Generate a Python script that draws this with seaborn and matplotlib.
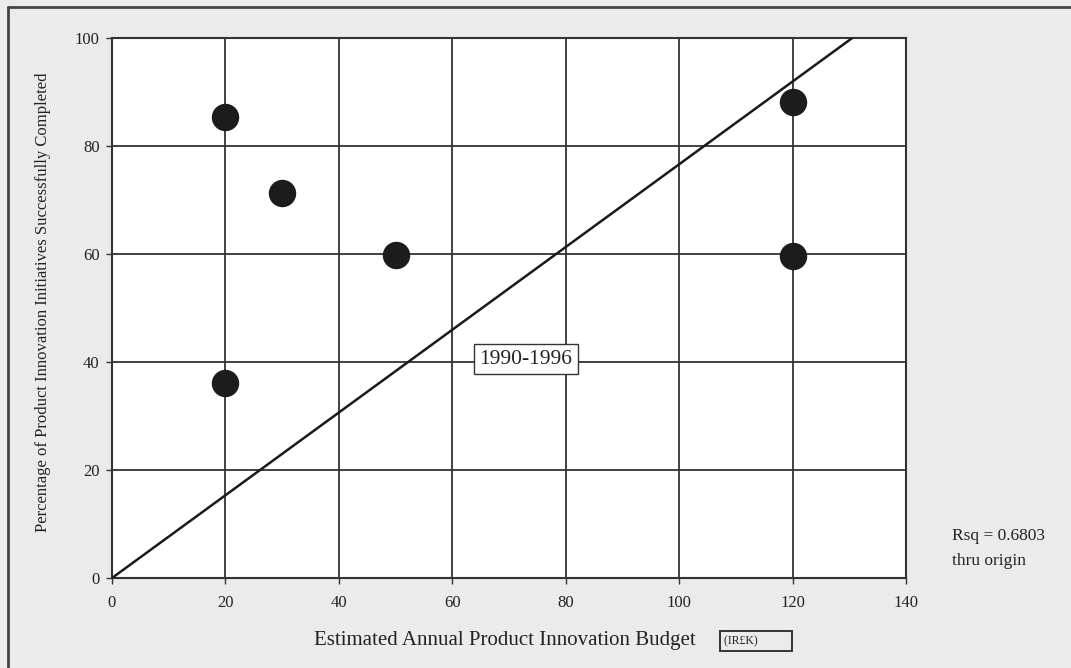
import numpy as np
import pandas as pd
import matplotlib
matplotlib.use("Agg")
import matplotlib.pyplot as plt
import seaborn as sns

# Data
budget = [20, 30, 50, 20, 120, 120]
success_pct = [85.4, 71.3, 59.8, 36.1, 88.1, 59.6]
x_ticks = [0, 20, 40, 60, 80, 100, 120, 140]
y_ticks = [0, 20, 40, 60, 80, 100]

df = pd.DataFrame({"budget": budget, "pct": success_pct})

# Regression through origin
b = np.array(budget, float)
p = np.array(success_pct, float)
slope = (b * p).sum() / (b * b).sum()
fit_x = [0, 140]
fit_df = pd.DataFrame({"x": fit_x, "y": [slope * v for v in fit_x]})

sns.set_theme(style="white")
plt.rcParams["font.family"] = ["Liberation Serif", "DejaVu Serif"]

fig = plt.figure(figsize=(10.71, 6.68), dpi=100, facecolor="#ebebeb")
ax = fig.add_axes([112/1071, 90/668, 794/1071, 540/668])
ax.set_facecolor("white")

ax.set_xlim(0, 140)
ax.set_ylim(0, 100)
ax.set_xticks(x_ticks)
ax.set_yticks(y_ticks)
ax.grid(True, color="#333333", linewidth=1.3)
ax.set_axisbelow(True)

sns.lineplot(data=fit_df, x="x", y="y", ax=ax, color="#1a1a1a", linewidth=1.8, zorder=3)
sns.scatterplot(data=df, x="budget", y="pct", ax=ax, s=390, color="#1c1c1c",
                edgecolor="#1c1c1c", linewidth=0, zorder=4)

for sp in ax.spines.values():
    sp.set_color("#333333")
    sp.set_linewidth(1.5)

ax.tick_params(axis="both", which="both", direction="out", length=4, width=1,
               color="#333333", labelsize=12, labelcolor="#222222", pad=5,
               left=True, bottom=True)
ax.tick_params(axis="x", pad=8)

ax.set_xlabel("")
ax.set_ylabel("")
fig.text(43/1071, 1 - 302/668, "Percentage of Product Innovation Initiatives Successfully Completed",
         rotation=90, ha="center", va="center", fontsize=12, color="#222222")
fig.text(505/1071, 1 - 640/668, "Estimated Annual Product Innovation Budget",
         ha="center", va="center", fontsize=15, color="#222222")
fig.text(724/1071, 1 - 641/668, "(IR£K)          ", ha="left", va="center", fontsize=8.5,
         color="#222222",
         bbox=dict(boxstyle="square,pad=0.35", facecolor="none", edgecolor="#333333", linewidth=1.4))

ax.text(73, 40.5, "1990-1996", ha="center", va="center", fontsize=15.5, color="#222222", zorder=5,
        bbox=dict(boxstyle="square,pad=0.25", facecolor="white", edgecolor="#333333", linewidth=1))

fig.text(952/1071, 1 - 536/668, "Rsq = 0.6803", ha="left", va="center", fontsize=12.5, color="#222222")
fig.text(952/1071, 1 - 561/668, "thru origin", ha="left", va="center", fontsize=12.5, color="#222222")

# figure frame (top and left edge)
fig.add_artist(plt.Line2D([8/1071, 1], [1 - 7/668, 1 - 7/668], transform=fig.transFigure,
                          color="#444444", linewidth=2))
fig.add_artist(plt.Line2D([8/1071, 8/1071], [0, 1 - 7/668], transform=fig.transFigure,
                          color="#444444", linewidth=2))

fig.savefig("out.png", dpi=100, facecolor=fig.get_facecolor())
